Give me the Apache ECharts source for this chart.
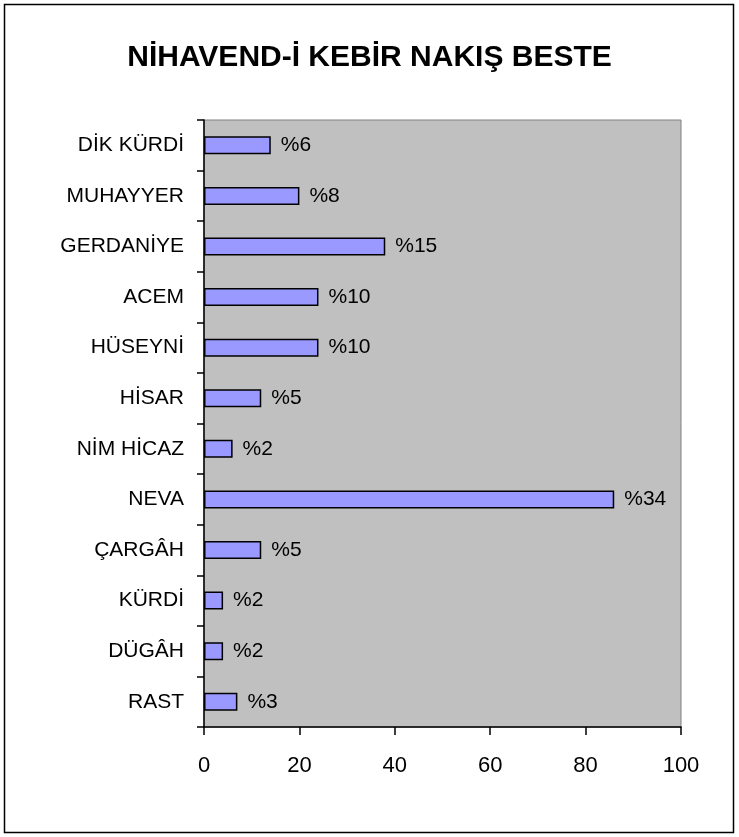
<!DOCTYPE html>
<html>
<head>
<meta charset="utf-8">
<script src="https://cdn.jsdelivr.net/npm/echarts@6/dist/echarts.min.js"></script>
<style>
html,body{margin:0;padding:0;background:#fff;}
#main{width:739px;height:837px;}
</style>
</head>
<body>
<div id="main"></div>
<script>
var categories = ["DİK KÜRDİ","MUHAYYER","GERDANİYE","ACEM","HÜSEYNİ","HİSAR","NİM HİCAZ","NEVA","ÇARGÂH","KÜRDİ","DÜGÂH","RAST"];
var values = [14, 20, 38, 24, 24, 12, 6, 86, 12, 4, 4, 7];
var valueLabels = ["%6","%8","%15","%10","%10","%5","%2","%34","%5","%2","%2","%3"];
var xTicks = [0, 20, 40, 60, 80, 100];

var FONT = 'Liberation Sans, Arial, sans-serif';
var chart = echarts.init(document.getElementById('main'), null, {renderer:'canvas'});
chart.setOption({
  animation: false,
  backgroundColor: '#ffffff',
  title: {
    text: 'NİHAVEND-İ KEBİR NAKIŞ BESTE',
    left: 'center',
    top: 38,
    textStyle: {fontFamily: FONT, fontWeight: 'bold', fontSize: 30, color: '#000'}
  },
  graphic: [{
    type: 'rect',
    shape: {x: 4.5, y: 4.5, width: 729, height: 828},
    style: {fill: 'none', stroke: '#000', lineWidth: 1.5},
    silent: true
  }],
  grid: {
    left: 204, right: 58, top: 120, bottom: 110,
    show: true, backgroundColor: '#C0C0C0', borderColor: '#808080', borderWidth: 1
  },
  xAxis: {
    type: 'value', min: xTicks[0], max: xTicks[xTicks.length-1], interval: 20,
    axisLine: {show: true, lineStyle: {color: '#000', width: 1.5}},
    axisTick: {show: true, length: 8, lineStyle: {color: '#000', width: 1.5}},
    splitLine: {show: false},
    axisLabel: {fontFamily: FONT, fontSize: 22, color: '#000', margin: 28}
  },
  yAxis: {
    type: 'category', data: categories, inverse: true,
    axisLine: {show: true, lineStyle: {color: '#000', width: 1.5}},
    axisTick: {show: true, length: 7, alignWithLabel: false, lineStyle: {color: '#000', width: 1.5}},
    axisLabel: {fontFamily: FONT, fontSize: 21, color: '#000', margin: 20}
  },
  series: [{
    type: 'bar',
    data: values,
    barWidth: 18,
    itemStyle: {color: '#9999FF', borderColor: '#000', borderWidth: 1.5},
    label: {
      show: true, position: 'right', distance: 10,
      fontFamily: FONT, fontSize: 21, color: '#000',
      formatter: function(p){ return valueLabels[p.dataIndex]; }
    }
  }]
});
</script>
</body>
</html>
